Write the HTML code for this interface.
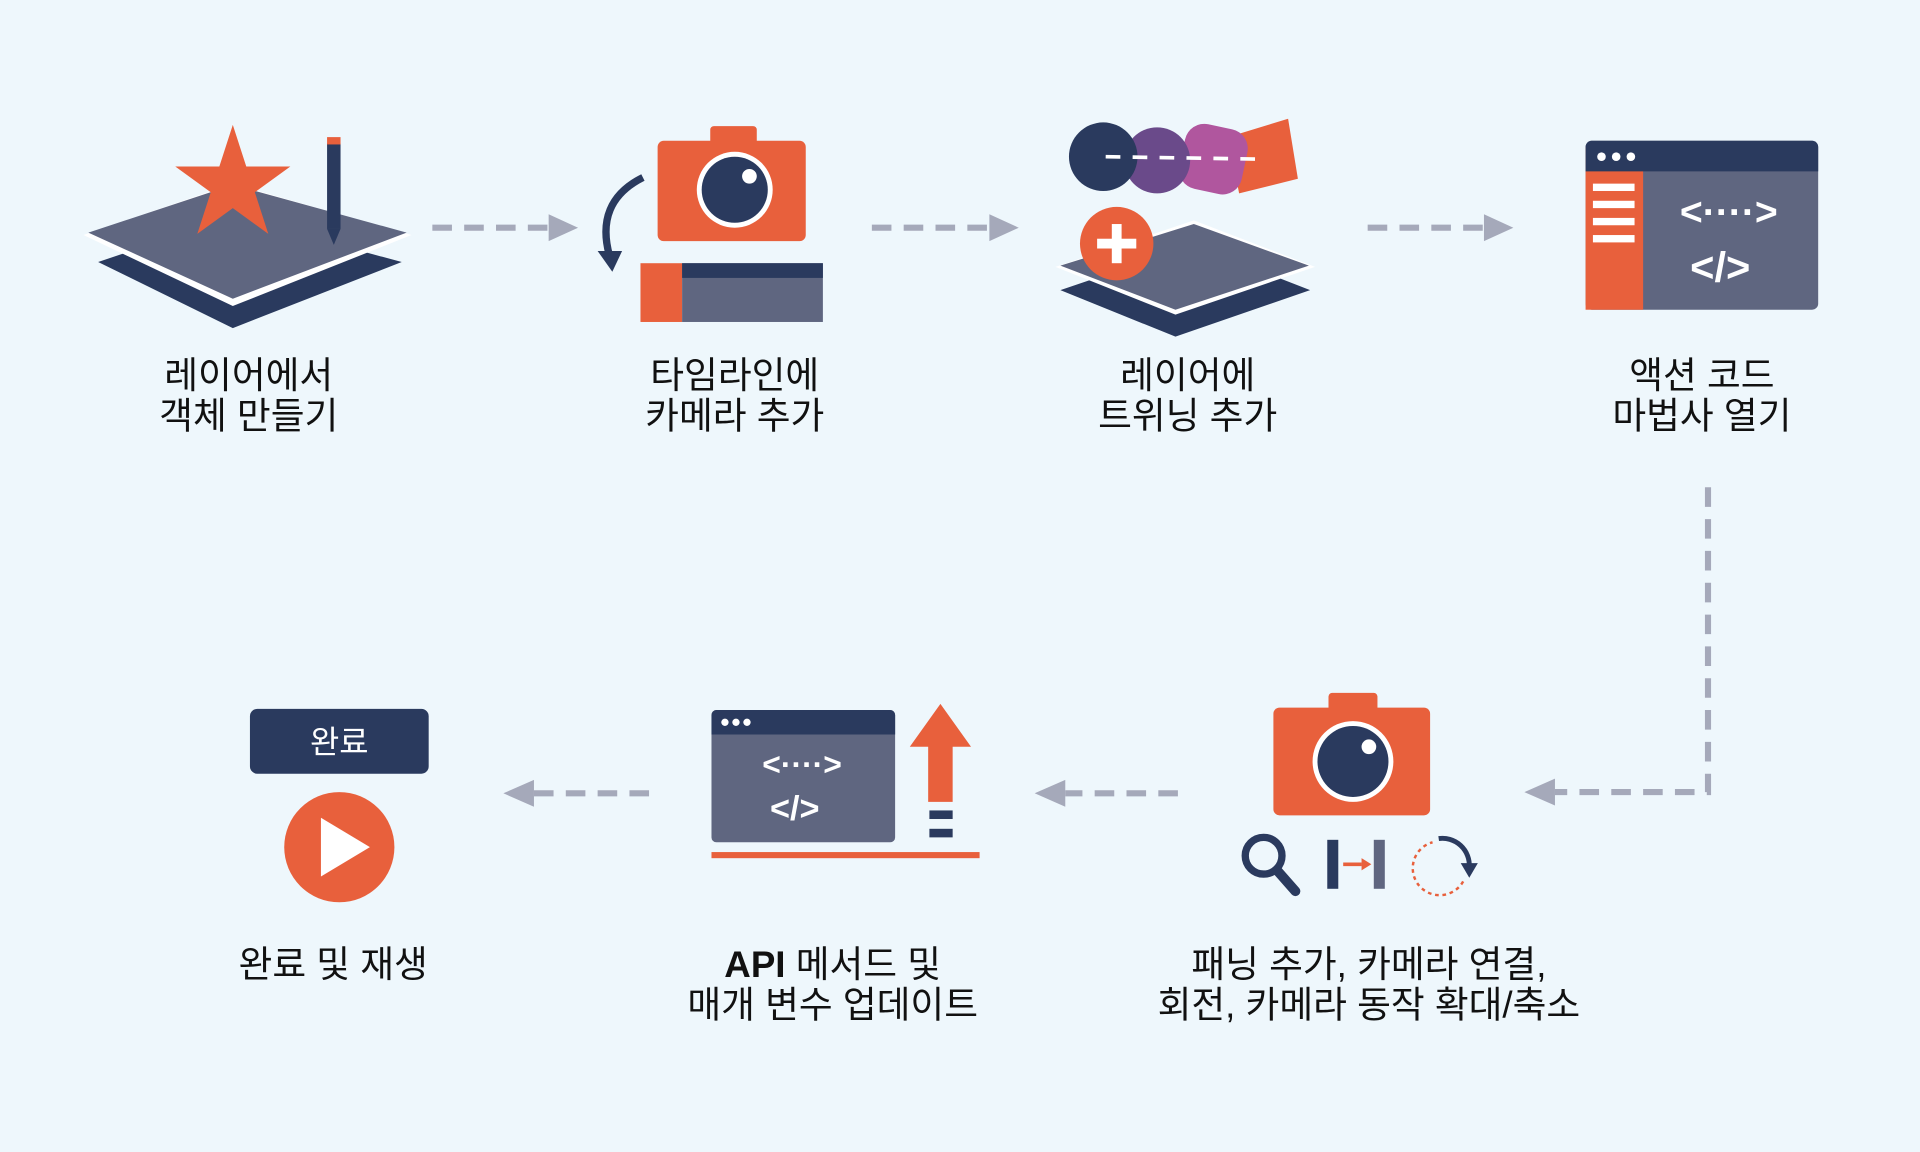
<!DOCTYPE html>
<html><head><meta charset="utf-8"><style>
html,body{margin:0;padding:0;background:#eef7fc;}
svg{display:block}
text{font-family:"Liberation Sans","Noto Sans CJK KR",sans-serif;}
</style></head><body>
<svg width="1920" height="1152" viewBox="0 0 1568 941" xmlns="http://www.w3.org/2000/svg">
<rect width="1568" height="941" fill="#eef7fc"/>
<g stroke="#a5a9ba" stroke-width="5" stroke-dasharray="16,10" fill="none">
<line x1="353" y1="186" x2="448" y2="186"/>
<line x1="712" y1="186" x2="808" y2="186"/>
<line x1="1117" y1="186" x2="1212" y2="186"/>
<polyline points="1395,398 1395,647 1270,647"/>
<line x1="962" y1="648" x2="870" y2="648"/>
<line x1="530" y1="648" x2="436" y2="648"/>
</g>
<g fill="#a5a9ba">
<polygon points="448,175 472,186 448,197"/>
<polygon points="808,175 832,186 808,197"/>
<polygon points="1212,175 1236,186 1212,197"/>
<polygon points="1270,636 1245,647 1270,658"/>
<polygon points="870,637 845,648 870,659"/>
<polygon points="436,637 411,648 436,659"/>
</g>

<!-- icon 1 -->
<polygon points="80,214 190,177 328,214 190,268" fill="#2a3a5e"/>
<polygon points="68,192 190,150 336,192 190,250" fill="#fff"/>
<polygon points="72,190 190,151 332,190 190,244" fill="#5f6680"/>
<polygon points="190,102 201,136 237,136 208,157 219,191 190,170 161,191 172,157 143,136 179,136" fill="#e8603c"/>
<rect x="267" y="117" width="11" height="70" fill="#2a3a5e"/>
<rect x="267" y="112" width="11" height="6" fill="#e8603c"/>
<polygon points="267,187 278,187 272.5,200" fill="#2a3a5e"/>

<!-- icon 2 -->
<rect x="580" y="103" width="38" height="18" rx="3" fill="#e8603c"/>
<rect x="537" y="115" width="121" height="82" rx="5" fill="#e8603c"/>
<circle cx="600" cy="155" r="31" fill="#fff"/>
<circle cx="600" cy="155" r="27" fill="#2a3a5e"/>
<circle cx="612" cy="144" r="6" fill="#fff"/>
<path d="M525,145 Q485,165 498,210" stroke="#2a3a5e" stroke-width="6" fill="none"/>
<polygon points="488,205 508,205 500,222" fill="#2a3a5e"/>
<rect x="523" y="215" width="34" height="48" fill="#e8603c"/>
<rect x="557" y="215" width="115" height="48" fill="#5f6680"/>
<rect x="557" y="215" width="115" height="12" fill="#2a3a5e"/>

<!-- icon 3 -->
<polygon points="1003,112 1052,97 1060,146 1012,158" fill="#e8603c"/>
<rect x="965" y="103" width="52" height="54" rx="16" fill="#b0569e" transform="rotate(12 991 130)"/>
<circle cx="945" cy="131" r="27" fill="#6a4a8a"/>
<circle cx="901" cy="128" r="28" fill="#2a3a5e"/>
<path d="M903,128 L1030,130" stroke="#fff" stroke-width="3" stroke-dasharray="12,10"/>
<polygon points="866,237 975,200 1070,237 960,275" fill="#2a3a5e"/>
<polygon points="862,218 975,180 1074,218 960,257" fill="#fff"/>
<polygon points="866,217 975,183 1069,217 960,253" fill="#5f6680"/>
<circle cx="912" cy="199" r="30" fill="#e8603c"/>
<rect x="896" y="195" width="32" height="8" fill="#fff"/>
<rect x="908" y="183" width="8" height="32" fill="#fff"/>

<!-- icon 4 -->
<rect x="1295" y="115" width="190" height="138" rx="5" fill="#5f6680"/>
<rect x="1295" y="120" width="47" height="133" fill="#e8603c"/>
<path d="M1300,115 H1480 a5,5 0 0 1 5,5 V140 H1295 V120 a5,5 0 0 1 5,-5z" fill="#2a3a5e"/>
<circle cx="1308" cy="128" r="3.5" fill="#fff"/><circle cx="1320" cy="128" r="3.5" fill="#fff"/><circle cx="1332" cy="128" r="3.5" fill="#fff"/>
<g fill="#fff"><rect x="1301" y="150" width="34" height="6"/><rect x="1301" y="164" width="34" height="6"/><rect x="1301" y="178" width="34" height="6"/><rect x="1301" y="192" width="34" height="6"/></g>
<text x="1412" y="184" font-size="32" fill="#fff" text-anchor="middle" font-weight="bold">&lt;····&gt;</text>
<text x="1405" y="230" font-size="34" fill="#fff" text-anchor="middle" font-weight="bold">&lt;/&gt;</text>

<!-- row2 camera -->
<rect x="1085" y="566" width="40" height="18" rx="3" fill="#e8603c"/>
<rect x="1040" y="578" width="128" height="88" rx="5" fill="#e8603c"/>
<circle cx="1105" cy="622" r="33" fill="#fff"/>
<circle cx="1105" cy="622" r="29" fill="#2a3a5e"/>
<circle cx="1118" cy="610" r="6" fill="#fff"/>
<circle cx="1032" cy="699" r="15" stroke="#2a3a5e" stroke-width="6" fill="none"/>
<line x1="1043" y1="711" x2="1058" y2="728" stroke="#2a3a5e" stroke-width="8" stroke-linecap="round"/>
<rect x="1084" y="686" width="9" height="40" fill="#2a3a5e"/>
<rect x="1122" y="686" width="9" height="40" fill="#5f6680"/>
<line x1="1097" y1="706" x2="1112" y2="706" stroke="#e8603c" stroke-width="3"/>
<polygon points="1112,701 1120,706 1112,711" fill="#e8603c"/>
<path d="M1175,685 A22,22 0 0 1 1200,708" stroke="#2a3a5e" stroke-width="4" fill="none"/>
<polygon points="1193,705 1207,705 1200,717" fill="#2a3a5e"/>
<path d="M1195,720 A22,22 0 1 1 1170,688" stroke="#e8603c" stroke-width="2" stroke-dasharray="3,3" fill="none"/>

<!-- row2 window -->
<rect x="581" y="580" width="150" height="108" rx="4" fill="#5f6680"/>
<path d="M585,580 H727 a4,4 0 0 1 4,4 V600 H581 V584 a4,4 0 0 1 4,-4z" fill="#2a3a5e"/>
<circle cx="592" cy="590" r="3" fill="#fff"/><circle cx="601" cy="590" r="3" fill="#fff"/><circle cx="610" cy="590" r="3" fill="#fff"/>
<text x="655" y="633" font-size="26" fill="#fff" text-anchor="middle" font-weight="bold">&lt;····&gt;</text>
<text x="649" y="670" font-size="28" fill="#fff" text-anchor="middle" font-weight="bold">&lt;/&gt;</text>
<polygon points="768,575 793,610 778,610 778,655 758,655 758,610 743,610" fill="#e8603c"/>
<rect x="759" y="662" width="19" height="7" fill="#2a3a5e"/>
<rect x="759" y="677" width="19" height="7" fill="#2a3a5e"/>
<rect x="581" y="696" width="219" height="5" fill="#e8603c"/>

<!-- done -->
<rect x="204" y="579" width="146" height="53" rx="6" fill="#2a3a5e"/>
<text x="277" y="615" font-size="26" fill="#fff" text-anchor="middle">완료</text>
<circle cx="277" cy="692" r="45" fill="#e8603c"/>
<polygon points="262,668 262,716 302,692" fill="#fff"/>

<g font-size="30" fill="#111" text-anchor="middle">
<text x="203" y="317">레이어에서</text><text x="203" y="350">객체 만들기</text>
<text x="600" y="317">타임라인에</text><text x="600" y="350">카메라 추가</text>
<text x="970" y="317">레이어에</text><text x="970" y="350">트위닝 추가</text>
<text x="1390" y="317">액션 코드</text><text x="1390" y="350">마법사 열기</text>
<text x="272" y="798">완료 및 재생</text>
<text x="680" y="798"><tspan font-weight="bold">API</tspan> 메서드 및</text><text x="680" y="831">매개 변수 업데이트</text>
<text x="1118" y="798">패닝 추가, 카메라 연결,</text><text x="1118" y="831">회전, 카메라 동작 확대/축소</text>
</g>
</svg>
</body></html>
